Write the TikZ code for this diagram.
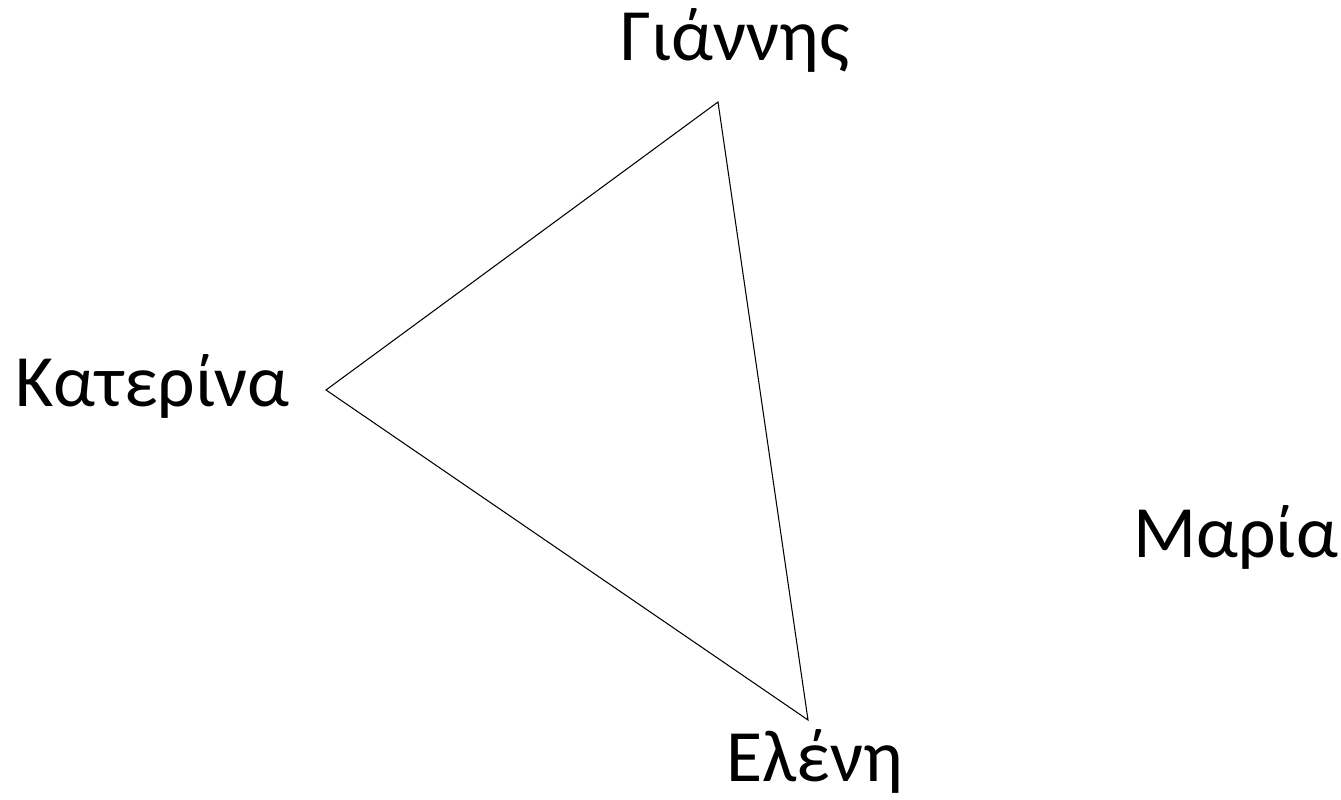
\documentclass[tikz,border=0pt]{standalone}
\usepackage{fontspec}
\setmainfont{Carlito}
\usepackage{tikz}
\usetikzlibrary{positioning}

\begin{document}
\begin{tikzpicture}[x=0.02cm, y=0.02cm,
		person/.style={font=\fontsize{42}{50}\selectfont, inner sep=0pt, anchor=base west},
		edge/.style={line width=0.6pt, line join=miter}]
	\useasboundingbox (0,0) rectangle (1341,800);
	% names
	\node[person] (giannis)  at (620,739) {Γιάννης};
	\node[person] (katerina) at (15,393)  {Κατερίνα};
	\node[person] (eleni)    at (726,18)  {Ελένη};
	\node[person] (maria)    at (1133,242) {Μαρία};
	% triangle corners
	\coordinate (top)    at (718,698);
	\coordinate (left)   at (326,410);
	\coordinate (bottom) at (808,80);
	\draw[edge] (top) -- (left) -- (bottom) -- cycle;
\end{tikzpicture}
\end{document}
